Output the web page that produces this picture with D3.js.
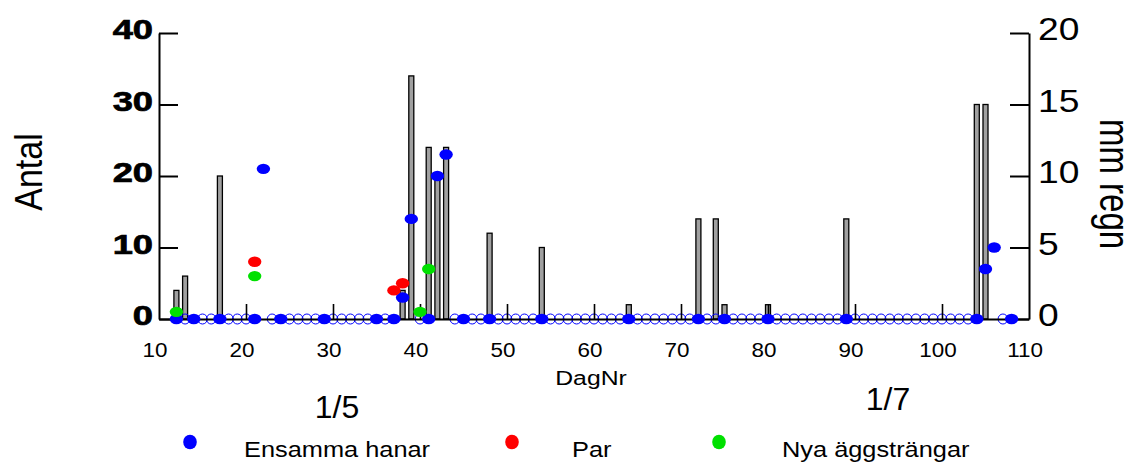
<!DOCTYPE html>
<html>
<head>
<meta charset="utf-8">
<script src="https://cdn.jsdelivr.net/npm/d3@7"></script>
<style>
  body { margin: 0; background: #fff; }
  svg { display: block; }
  text { font-family: "Liberation Sans", Arial, sans-serif; fill: #000; }
</style>
</head>
<body>
<script>
// Rain per day (mm, right axis)
var rainDays = [12, 13, 17, 38, 39, 41, 42, 43, 48, 54, 64, 72, 74, 75, 80, 89, 104, 105];
var rainMm = [2, 3, 10, 2, 17, 12, 10, 12, 6, 5, 1, 7, 7, 1, 1, 7, 15, 15];

// Ensamma hanar (filled blue)
var maleDays = [12, 14, 17, 21, 22, 24, 29, 35, 37, 38, 39, 41, 42, 43, 45, 48, 54, 64, 72, 75, 80, 89, 104, 105, 106, 108];
var maleCount = [0, 0, 0, 0, 21, 0, 0, 0, 0, 3, 14, 0, 20, 23, 0, 0, 0, 0, 0, 0, 0, 0, 0, 7, 10, 0];

// days with open (hollow) zero markers
var emptyDays = [13, 15, 16, 18, 19, 20, 23, 25, 26, 27, 28, 30, 31, 32, 33, 34, 36, 40, 44, 46, 47,
  49, 50, 51, 52, 53, 55, 56, 57, 58, 59, 60, 61, 62, 63, 65, 66, 67, 68, 69, 70, 71, 73, 74,
  76, 77, 78, 79, 81, 82, 83, 84, 85, 86, 87, 88, 90, 91, 92, 93, 94, 95, 96, 97, 98, 99, 100,
  101, 102, 103, 107];

// Par (red)
var parDays = [21, 37, 38];
var parCount = [8, 4, 5];

// Nya äggsträngar (green)
var eggDays = [12, 21, 40, 41];
var eggCount = [1, 6, 1, 7];

var xTicks = [10, 20, 30, 40, 50, 60, 70, 80, 90, 100, 110];
var leftTicks = [0, 10, 20, 30, 40];
var rightTicks = [0, 5, 10, 15, 20];
var legendLabels = ["Ensamma hanar", "Par", "Nya äggsträngar"];
var legendColors = ["#0000ff", "#ff0000", "#00e000"];

// Chart Params
var svgWidth = 1135;
var svgHeight = 464;
var margin = { top: 33, right: 106, bottom: 145, left: 159 };
var width = svgWidth - margin.left - margin.right;
var height = svgHeight - margin.top - margin.bottom;

var svg = d3.select("body")
  .append("svg")
  .attr("width", svgWidth)
  .attr("height", svgHeight);

var chartGroup = svg.append("g")
  .attr("transform", `translate(${margin.left}, ${margin.top})`);

// scales
var xScale = d3.scaleLinear().domain([10, 110]).range([0, width]);
var yLeft = d3.scaleLinear().domain([0, 40]).range([height, 0]);
var yRight = d3.scaleLinear().domain([0, 20]).range([height, 0]);

// the original text is stretched sideways, so each label gets its own x-scale
function stretchText(parent, x, y, str, size, sx, anchor, rot, weight) {
  var g = parent.append("g")
    .attr("transform", `translate(${x}, ${y}) scale(${sx}, 1)` + (rot ? ` rotate(${rot})` : ""));
  return g.append("text")
    .attr("text-anchor", anchor)
    .attr("font-size", size)
    .attr("font-weight", weight || "normal")
    .text(str);
}

// rain bars
chartGroup.selectAll(".bar")
  .data(rainDays)
  .enter()
  .append("rect")
  .attr("class", "bar")
  .attr("x", d => xScale(d) - 2.5)
  .attr("width", 5)
  .attr("y", (d, i) => yRight(rainMm[i]))
  .attr("height", (d, i) => height - yRight(rainMm[i]))
  .attr("fill", "#a0a0a0")
  .attr("stroke", "#000")
  .attr("stroke-width", 1.3);

// hollow zero markers
chartGroup.selectAll(".empty")
  .data(emptyDays)
  .enter()
  .append("ellipse")
  .attr("cx", d => xScale(d))
  .attr("cy", yLeft(0))
  .attr("rx", 4.8)
  .attr("ry", 5)
  .attr("fill", "none")
  .attr("stroke", "#0000ff")
  .attr("stroke-width", 1);

// axes
var bottomAxis = d3.axisBottom(xScale)
  .tickValues(xTicks.slice(1, -1))
  .tickSize(-15)
  .tickSizeOuter(0)
  .tickFormat("");
var leftAxis = d3.axisLeft(yLeft)
  .tickValues(leftTicks)
  .tickSize(-19)
  .tickSizeOuter(0)
  .tickFormat("");
var rightAxis = d3.axisRight(yRight)
  .tickValues(rightTicks)
  .tickSize(-19)
  .tickSizeOuter(0)
  .tickFormat("");

var xAxisG = chartGroup.append("g")
  .attr("transform", `translate(0, ${height})`)
  .call(bottomAxis);
var yAxisG = chartGroup.append("g").call(leftAxis);
var y2AxisG = chartGroup.append("g")
  .attr("transform", `translate(${width}, 0)`)
  .call(rightAxis);

[xAxisG, yAxisG, y2AxisG].forEach(function (g) {
  g.selectAll("path, line").attr("stroke", "#000").attr("stroke-width", 2);
});
xAxisG.selectAll("line").attr("stroke-width", 1.6);

// point series
function drawDots(days, vals, color) {
  chartGroup.append("g")
    .selectAll("ellipse")
    .data(days)
    .enter()
    .append("ellipse")
    .attr("cx", d => xScale(d))
    .attr("cy", (d, i) => yLeft(vals[i]))
    .attr("rx", 6.7)
    .attr("ry", 5.2)
    .attr("fill", color);
}
drawDots(maleDays, maleCount, legendColors[0]);
drawDots(parDays, parCount, legendColors[1]);
drawDots(eggDays, eggCount, legendColors[2]);

// tick labels
xTicks.forEach(function (t) {
  stretchText(svg, margin.left + xScale(t) - 4, 357, t, 19.5, 1.15, "middle");
});
leftTicks.forEach(function (t) {
  stretchText(svg, 153, margin.top + yLeft(t) + 6, t, 27.5, 1.32, "end", 0, "bold")
    .attr("stroke", "#000")
    .attr("stroke-width", 0.7);
});
rightTicks.forEach(function (t) {
  stretchText(svg, 1038, margin.top + yRight(t) + 7, t, 31, 1.2, "start");
});

// axis titles
stretchText(svg, 591, 385, "DagNr", 21, 1.18, "middle");
stretchText(svg, 42, 172, "Antal", 34, 1.12, "middle", -90);
stretchText(svg, 1100, 184, "mm regn", 33, 1.3, "middle", 90);

// date marks
stretchText(svg, 337, 418, "1/5", 32, 1.0, "middle");
stretchText(svg, 888, 410, "1/7", 32, 1.0, "middle");

// legend
var legendDotX = [190, 512, 719];
var legendTextX = [244, 572, 782];
legendLabels.forEach(function (label, i) {
  svg.append("ellipse")
    .attr("cx", legendDotX[i])
    .attr("cy", 442)
    .attr("rx", 6.8)
    .attr("ry", 7.3)
    .attr("fill", legendColors[i]);
  stretchText(svg, legendTextX[i], 457, label, 21.5, 1.18, "start");
});
</script>
</body>
</html>
